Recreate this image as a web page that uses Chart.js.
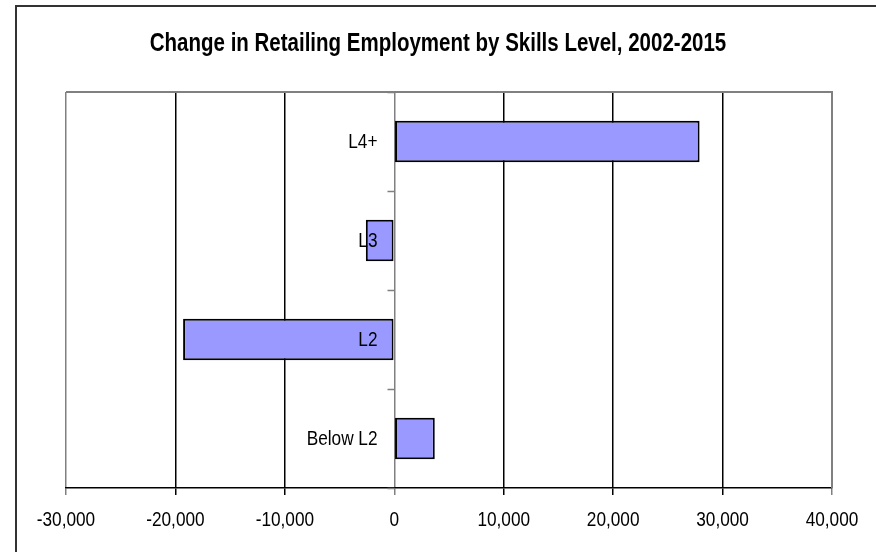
<!DOCTYPE html>
<html><head>
<meta charset="utf-8">
<style>
  html, body { margin: 0; padding: 0; background: #fff; }
  #wrap { position: relative; width: 876px; height: 552px; }
</style>
<script src="https://cdn.jsdelivr.net/npm/chart.js"></script>
</head>
<body>
<div id="wrap"><canvas id="chart" width="876" height="552"></canvas></div>
<script>
const title = 'Change in Retailing Employment by Skills Level, 2002-2015';
const levels = ['L4+', 'L3', 'L2', 'Below L2'];
const change = [27900, -2600, -19300, 3700];
const xMin = -30000, xMax = 40000, xStep = 10000;

const sans = '"Liberation Sans", Arial, sans-serif';
const SQUEEZE = 0.82; // narrow look: regular sans squeezed horizontally

function narrowText(ctx, text, x, y, font, align) {
  ctx.save();
  ctx.font = font;
  ctx.textAlign = align;
  ctx.textBaseline = 'middle';
  ctx.translate(x, y);
  ctx.scale(SQUEEZE, 1);
  ctx.fillText(text, 0, 0);
  ctx.restore();
}

// frame, title, tick text, category ticks and labels on the zero line
const extras = {
  id: 'extras',
  beforeDraw(chart) {
    const ctx = chart.ctx;
    ctx.save();
    ctx.strokeStyle = '#333';
    ctx.lineWidth = 2;
    ctx.beginPath();
    ctx.moveTo(16, chart.height);
    ctx.lineTo(16, 6);
    ctx.lineTo(chart.width, 6);
    ctx.stroke();
    ctx.fillStyle = '#000';
    narrowText(ctx, title, 438, 44, 'bold 25px ' + sans, 'center');
    ctx.restore();
  },
  afterDatasetsDraw(chart) {
    const ctx = chart.ctx, area = chart.chartArea;
    const x = chart.scales.x, y = chart.scales.y;
    const x0 = Math.round(x.getPixelForValue(0)) + 0.5;
    ctx.save();
    // plot border (top/right)
    ctx.strokeStyle = '#808080';
    ctx.lineWidth = 2;
    ctx.beginPath();
    ctx.moveTo(area.left, area.top);
    ctx.lineTo(area.right, area.top);
    ctx.lineTo(area.right, area.bottom);
    ctx.stroke();
    // category tick marks between bands
    ctx.lineWidth = 1.5;
    ctx.beginPath();
    const band = (area.bottom - area.top) / levels.length;
    for (let i = 0; i <= levels.length; i++) {
      const yy = Math.round(area.top + band * i) + 0.5;
      ctx.moveTo(x0 - 7, yy);
      ctx.lineTo(x0, yy);
    }
    ctx.stroke();
    ctx.fillStyle = '#000';
    // category labels
    levels.forEach((lab, i) => {
      narrowText(ctx, lab, x0 - 17, y.getPixelForValue(i) + 1, '21px ' + sans, 'right');
    });
    // value axis labels
    x.ticks.forEach(t => {
      narrowText(ctx, t.value.toLocaleString('en-US'), x.getPixelForValue(t.value), area.bottom + 32, '21px ' + sans, 'center');
    });
    ctx.restore();
  }
};

new Chart(document.getElementById('chart'), {
  type: 'bar',
  data: {
    labels: levels,
    datasets: [{
      data: change,
      backgroundColor: '#9999ff',
      borderColor: '#000',
      borderWidth: 2,
      borderSkipped: false,
      barPercentage: 0.42,
      categoryPercentage: 1
    }]
  },
  options: {
    indexAxis: 'y',
    responsive: false,
    animation: false,
    layout: { padding: { left: 66, right: 44, top: 92, bottom: 57 } },
    plugins: {
      legend: { display: false },
      tooltip: { enabled: false },
      title: { display: false }
    },
    scales: {
      x: {
        min: xMin,
        max: xMax,
        ticks: { stepSize: xStep, display: false },
        grid: {
          color: ctx => (ctx.tick && (ctx.tick.value === 0 || ctx.tick.value === xMin || ctx.tick.value === xMax)) ? '#808080' : '#000',
          lineWidth: 1.5,
          tickLength: 7
        },
        border: { color: '#000', width: 1.5 }
      },
      y: { display: false }
    }
  },
  plugins: [extras]
});
</script>
</body></html>
